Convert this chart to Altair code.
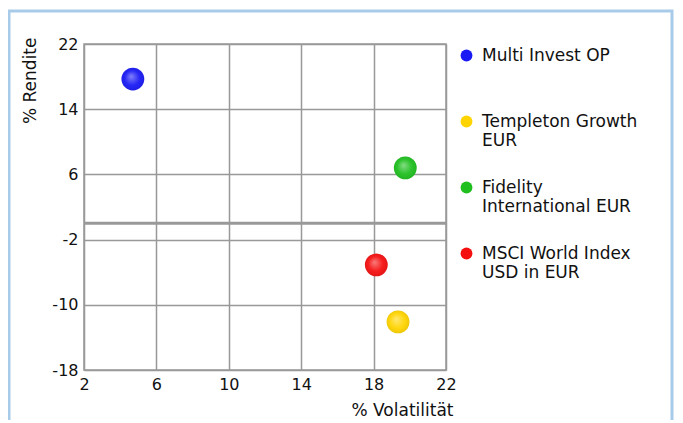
import altair as alt
import pandas as pd

names = ["Multi Invest OP", "Templeton Growth EUR", "Fidelity International EUR", "MSCI World Index USD in EUR"]
# legend label lines (wrapped as in the reference)
label_lines = ["Multi Invest OP\n ", "Templeton Growth\nEUR", "Fidelity\nInternational EUR", "MSCI World Index\nUSD in EUR"]
colors = ["#1a1af5", "#ffd400", "#1fbf1f", "#f51010"]
vol = [4.7, 19.35, 19.75, 18.15]
ret = [17.7, -12.1, 6.8, -5.1]
x_ticks = [2, 6, 10, 14, 18, 22]
y_ticks = [-18, -10, -2, 6, 14, 22]

df = pd.DataFrame({"name": label_lines, "vol": vol, "ret": ret, "fund": names})
FONT = "DejaVu Sans"

xs = alt.Scale(domain=[2, 22], nice=False, zero=False)
ys = alt.Scale(domain=[-18, 22], nice=False, zero=False)

base = alt.Chart(df)

pts = base.mark_circle(size=520, opacity=1).encode(
    x=alt.X("vol:Q", scale=xs, axis=alt.Axis(
        values=x_ticks, title="% Volatilität", grid=True, gridColor="#999", gridWidth=1.5,
        domain=False, ticks=False, labelFont=FONT, labelFontSize=16, labelColor="#111",
        labelPadding=6, labelFlush=False, labelExpr="'' + datum.value",
        titleFont=FONT, titleFontSize=17, titleFontWeight="normal", titleColor="#111",
        titleAlign="right", titleBaseline="middle", titleX=369, titleY=40)),
    y=alt.Y("ret:Q", scale=ys, axis=alt.Axis(
        values=y_ticks, title="% Rendite", grid=True, gridColor="#999", gridWidth=1.5,
        domain=False, ticks=False, labelFont=FONT, labelFontSize=16, labelColor="#111",
        labelPadding=6, labelFlush=False, labelExpr="'' + datum.value",
        titleFont=FONT, titleFontSize=17, titleFontWeight="normal", titleColor="#111",
        titleAlign="right", titleBaseline="middle", titleAngle=-90, titleX=-54, titleY=-7)),
    color=alt.Color("name:N", scale=alt.Scale(domain=label_lines, range=colors), legend=alt.Legend(
        title=None, orient="none", legendX=374, legendY=3, symbolType="circle", symbolSize=140,
        symbolStrokeWidth=0, labelFont=FONT, labelFontSize=17, labelColor="#111",
        labelExpr="split(datum.label, '\\n')", labelLimit=300, labelOffset=7,
        rowPadding=29, labelBaseline="middle")),
)

highlight = base.mark_circle(size=520, opacity=1, color=alt.Gradient(
    gradient="radial", x1=0.42, y1=0.38, r1=0, x2=0.5, y2=0.5, r2=0.55,
    stops=[alt.GradientStop(offset=0, color="rgba(255,255,255,0.45)"),
           alt.GradientStop(offset=0.6, color="rgba(255,255,255,0.05)"),
           alt.GradientStop(offset=1, color="rgba(0,0,0,0.10)")])).encode(
    x=alt.X("vol:Q", scale=xs), y=alt.Y("ret:Q", scale=ys))

zero = alt.Chart(pd.DataFrame({"z": [0]})).mark_rule(color="#999", strokeWidth=3).encode(
    y=alt.Y("z:Q", scale=ys))

frame = alt.Chart(pd.DataFrame({"a": [0]})).mark_rect(
    fill=None, stroke="#a9cbea", strokeWidth=3).encode(
    x=alt.value(-75), x2=alt.value(588), y=alt.value(-33), y2=alt.value(390))

chart = alt.layer(frame, zero, pts, highlight).properties(
    width=362, height=326, padding={"left": 76, "top": 36, "right": 228, "bottom": 50},
    autosize=alt.AutoSizeParams(type="none"),
).configure_view(stroke="#999", strokeWidth=1.5)

chart.save("out.html", embed_options={"renderer": "svg", "actions": False})
